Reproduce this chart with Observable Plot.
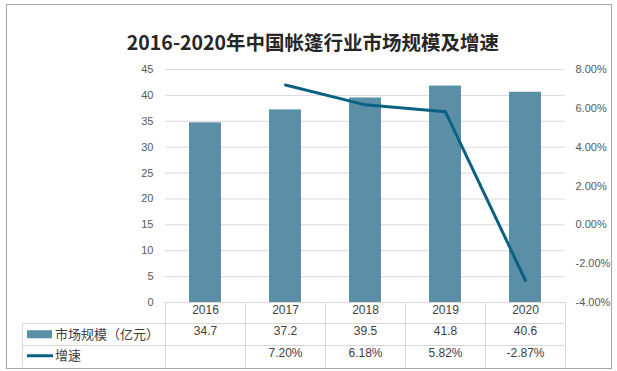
<!DOCTYPE html>
<html>
<head>
<meta charset="utf-8">
<script src="https://cdn.jsdelivr.net/npm/d3@7"></script>
<script src="https://cdn.jsdelivr.net/npm/@observablehq/plot@0.6"></script>
<style>
  html, body { margin: 0; padding: 0; background: #fff; }
  #wrap { position: relative; width: 617px; height: 371px; overflow: hidden; background: #fff; }
  #frame { position: absolute; left: 6px; top: 4px; width: 606px; height: 365px; box-sizing: border-box; border: 1px solid #a6a6a6; }
  #title { position: absolute; left: 0; width: 626px; top: 28px; text-align: center; font-family: 'Noto Sans CJK SC', sans-serif; font-weight: bold; font-size: 19.5px; line-height: 28px; color: #262626; }
  #chart { position: absolute; left: 0; top: 56px; }
  #chart svg { overflow: visible; }
</style>
</head>
<body>
<div id="wrap">
  <div id="frame"></div>
  <div id="title">2016-2020年中国帐篷行业市场规模及增速</div>
  <div id="chart"></div>
</div>
<script>
const years = ["2016", "2017", "2018", "2019", "2020"];
const marketSize = [34.7, 37.2, 39.5, 41.8, 40.6];
const growth = [null, 7.20, 6.18, 5.82, -2.87];
const leftTicks = [0, 5, 10, 15, 20, 25, 30, 35, 40, 45];
const rightTicks = [-4, -2, 0, 2, 4, 6, 8];
const seriesNames = ["市场规模（亿元）", "增速"];

const barColor = "#5b8fa8";
const lineColor = "#0b6182";
const gridColor = "#d9d9d9";
const textColor = "#595959";
const tableText = "#404040";

// map growth (%) onto the left axis domain [0,45]
const gMin = -4, gMax = 8, yMax = 45;
const toLeft = g => (g - gMin) / (gMax - gMin) * yMax;
const fromLeft = v => v / yMax * (gMax - gMin) + gMin;

const bars = years.map((y, i) => ({year: y, size: marketSize[i]}));
const rates = years.map((y, i) => ({year: y, g: growth[i]})).filter(d => d.g != null);

const font = "'Liberation Sans', 'Noto Sans CJK SC', sans-serif";

const plot = Plot.plot({
  width: 617,
  height: 315,
  marginLeft: 165,
  marginRight: 52,
  marginTop: 13,
  marginBottom: 69,
  x: {domain: years, paddingInner: 0.6, paddingOuter: 0.3, axis: null},
  y: {domain: [0, 45], axis: null},
  style: {fontFamily: font, fontSize: "11px", color: textColor, background: "transparent"},
  marks: [
    Plot.gridY(leftTicks, {stroke: gridColor, strokeOpacity: 1, strokeWidth: 1}),
    Plot.axisY(leftTicks, {anchor: "left", label: null, tickSize: 0, tickPadding: 12, fill: textColor, fontSize: 11}),
    Plot.axisY(rightTicks.map(toLeft), {anchor: "right", label: null, tickSize: 0, tickPadding: 10, textAnchor: "start",
      fill: textColor, fontSize: 11, tickFormat: v => fromLeft(v).toFixed(2) + "%"}),
    Plot.barY(bars, {x: "year", y: "size", fill: barColor}),
    Plot.line(rates, {x: "year", y: d => toLeft(d.g), stroke: lineColor, strokeWidth: 3, strokeLinejoin: "round"}),
    Plot.text(bars, {x: "year", text: "year", frameAnchor: "bottom", dy: 11, fill: tableText, fontSize: 12}),
    Plot.text(bars, {x: "year", text: d => d.size.toFixed(1), frameAnchor: "bottom", dy: 32, fill: tableText, fontSize: 12}),
    Plot.text(rates, {x: "year", text: d => d.g.toFixed(2) + "%", frameAnchor: "bottom", dy: 54, fill: tableText, fontSize: 12})
  ]
});
document.getElementById("chart").appendChild(plot);

// data table grid and legend keys, placed from the plot's own scales
const sx = plot.scale("x");
const sy = plot.scale("y");
const gap = (sx.step - sx.bandwidth) / 2;
const y0 = sy.apply(0);
const rowH = 21.5;
const svg = d3.select(plot);
const g = svg.append("g").attr("stroke", gridColor).attr("stroke-width", 1).attr("shape-rendering", "crispEdges");
const edges = years.map(y => sx.apply(y) - gap).concat([sx.apply(years[years.length - 1]) + sx.bandwidth + gap]);
const tableLeft = 22;
edges.forEach(x => g.append("line").attr("x1", x).attr("x2", x).attr("y1", y0).attr("y2", y0 + 3 * rowH));
g.append("line").attr("x1", tableLeft).attr("x2", tableLeft).attr("y1", y0 + rowH).attr("y2", y0 + 3 * rowH);
[1, 2].forEach(r => g.append("line").attr("x1", tableLeft).attr("x2", edges[edges.length - 1]).attr("y1", y0 + r * rowH).attr("y2", y0 + r * rowH));

const leg = svg.append("g").attr("text-anchor", "start");
leg.append("rect").attr("x", 27).attr("y", y0 + 1.5 * rowH - 4).attr("width", 25).attr("height", 8).attr("fill", barColor);
leg.append("line").attr("x1", 27).attr("x2", 53).attr("y1", y0 + 2.5 * rowH).attr("y2", y0 + 2.5 * rowH)
  .attr("stroke", lineColor).attr("stroke-width", 3);
seriesNames.forEach((name, i) => {
  leg.append("text").attr("x", 55).attr("y", y0 + (1.5 + i) * rowH).attr("dy", "0.35em")
    .attr("text-anchor", "start")
    .attr("fill", tableText).attr("font-size", 13).attr("font-family", "'Noto Sans CJK SC', sans-serif").text(name);
});
</script>
</body>
</html>
